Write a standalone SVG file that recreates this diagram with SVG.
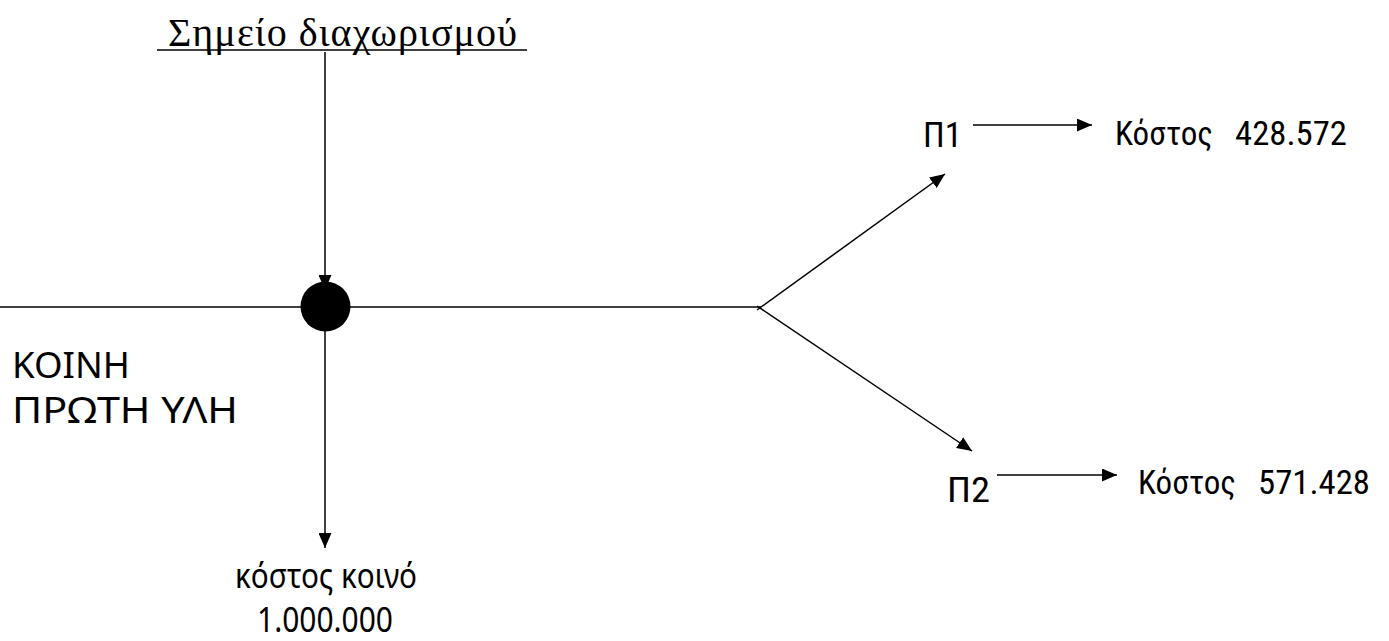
<svg xmlns="http://www.w3.org/2000/svg" width="1389" height="641" viewBox="0 0 1389 641">
<style>
.ln{stroke:#000;stroke-width:1.5;fill:none}
.sans{font-family:"Noto Sans","Open Sans","DejaVu Sans",sans-serif;fill:#000}
.serif{font-family:"Liberation Serif","DejaVu Serif",serif;fill:#000}
.narrow{font-family:"Liberation Sans Narrow","Roboto Condensed","Liberation Sans",sans-serif;fill:#000}
</style>
<defs>
<marker id="ah" viewBox="0 0 15 13" refX="15" refY="6.5" markerWidth="15" markerHeight="13" markerUnits="userSpaceOnUse" orient="auto">
<path d="M0,0 L15,6.5 L0,13 Z" fill="#000"/>
</marker>
</defs>
<g id="connectors">
<line class="ln" x1="0" y1="307" x2="761" y2="307"/>
<line class="ln" x1="325" y1="52" x2="325" y2="290" marker-end="url(#ah)"/>
<line class="ln" x1="325" y1="320" x2="325" y2="548" marker-end="url(#ah)"/>
<line class="ln" x1="757" y1="310" x2="945" y2="174" marker-end="url(#ah)"/>
<line class="ln" x1="757" y1="306" x2="972" y2="451" marker-end="url(#ah)"/>
<line class="ln" x1="973" y1="125" x2="1092" y2="125" marker-end="url(#ah)"/>
<line class="ln" x1="997" y1="475" x2="1117" y2="475" marker-end="url(#ah)"/>
</g>
<g id="split-point">
<circle cx="325.5" cy="306.5" r="25" fill="#000"/>
</g>
<g id="label-split">
<text class="serif" x="168" y="46" font-size="40" textLength="349" lengthAdjust="spacing">Σημείο διαχωρισμού</text>
<line x1="157" y1="50" x2="527" y2="50" stroke="#000" stroke-width="1.5"/>
</g>
<g id="raw-material">
<text class="sans" x="12" y="378" font-size="36" textLength="118" lengthAdjust="spacingAndGlyphs">ΚΟΙΝΗ</text>
<text class="sans" x="12" y="423" font-size="36" textLength="226" lengthAdjust="spacingAndGlyphs">ΠΡΩΤΗ ΥΛΗ</text>
</g>
<g id="common-cost">
<text class="sans" x="235" y="588" font-size="34" textLength="182" lengthAdjust="spacingAndGlyphs">κόστος κοινό</text>
<text class="sans" x="257" y="632" font-size="34" textLength="136" lengthAdjust="spacingAndGlyphs">1.000.000</text>
</g>
<g id="p1">
<text class="narrow" x="923" y="147" font-size="35" textLength="39" lengthAdjust="spacingAndGlyphs">Π1</text>
</g>
<g id="p1-cost">
<text class="narrow" y="145" font-size="33"><tspan x="1115" textLength="98" lengthAdjust="spacingAndGlyphs">Κόστος</tspan> <tspan x="1235" textLength="112" lengthAdjust="spacingAndGlyphs">428.572</tspan></text>
</g>
<g id="p2">
<text class="narrow" x="947" y="502" font-size="35" textLength="43" lengthAdjust="spacingAndGlyphs">Π2</text>
</g>
<g id="p2-cost">
<text class="narrow" y="494" font-size="33"><tspan x="1138" textLength="98" lengthAdjust="spacingAndGlyphs">Κόστος</tspan> <tspan x="1258" textLength="112" lengthAdjust="spacingAndGlyphs">571.428</tspan></text>
</g>
</svg>
